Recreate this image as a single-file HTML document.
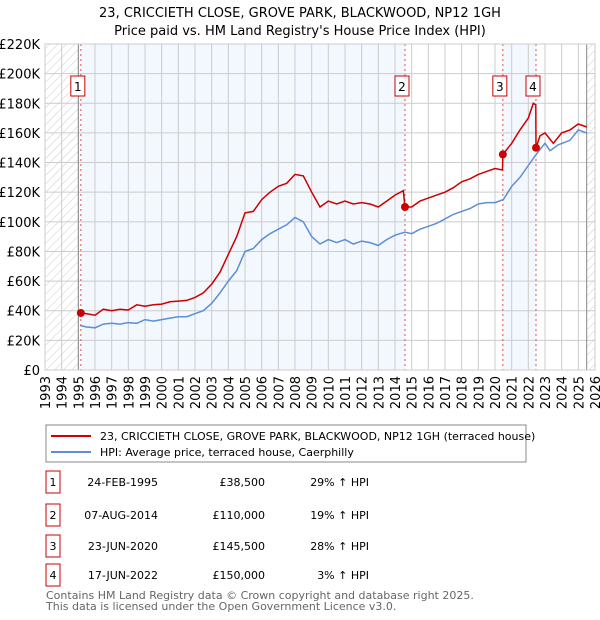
<!DOCTYPE html>
<html><head><meta charset="utf-8"><style>
body{margin:0;background:#fff;font-family:"Liberation Sans","DejaVu Sans",sans-serif;}
#wrap{position:relative;width:600px;height:620px;overflow:hidden;}
svg text{font-family:"DejaVu Sans","Liberation Sans",sans-serif;}
</style></head><body><div id="wrap">
<svg id="c" width="600" height="620" xmlns="http://www.w3.org/2000/svg"></svg>
</div>
<script>
const hpiYears=[1995.1,1995.5,1996,1996.5,1997,1997.5,1998,1998.5,1999,1999.5,2000,2000.5,2001,2001.5,2002,2002.5,2003,2003.5,2004,2004.5,2005,2005.5,2006,2006.5,2007,2007.5,2008,2008.5,2009,2009.5,2010,2010.5,2011,2011.5,2012,2012.5,2013,2013.5,2014,2014.6,2015,2015.5,2016,2016.5,2017,2017.5,2018,2018.5,2019,2019.5,2020,2020.5,2021,2021.5,2022,2022.5,2023,2023.3,2023.8,2024.5,2025,2025.5];
const hpiValues=[30,29,28.5,31,31.5,31,32,31.5,34,33,34,35,36,36,38,40,45,52,60,67,80,82,88,92,95,98,103,100,90,85,88,86,88,85,87,86,84,88,91,93,92,95,97,99,102,105,107,109,112,113,113,115,124,130,138,146,153,148,152,155,162,160];
const priceYears=[1995.15,1995.5,1996,1996.5,1997,1997.5,1998,1998.5,1999,1999.5,2000,2000.5,2001,2001.5,2002,2002.5,2003,2003.5,2004,2004.5,2005,2005.5,2006,2006.5,2007,2007.5,2008,2008.5,2009,2009.5,2010,2010.5,2011,2011.5,2012,2012.5,2013,2013.5,2014,2014.5,2014.6,2015,2015.5,2016,2016.5,2017,2017.5,2018,2018.5,2019,2019.5,2020,2020.45,2020.47,2021,2021.5,2022,2022.3,2022.45,2022.46,2022.7,2023,2023.5,2024,2024.5,2025,2025.5];
const priceValues=[38.5,38,37,41,40,41,40.5,44,43,44,44.5,46,46.5,47,49,52,58,66,78,90,106,107,115,120,124,126,132,131,120,110,114,112,114,112,113,112,110,114,118,121,110,110,114,116,118,120,123,127,129,132,134,136,135,145.5,153,162,170,180,179,150,158,160,153,160,162,166,164];
const saleYears=[1995.15,2014.6,2020.47,2022.46];
const saleValues=[38.5,110,145.5,150];
const saleLabels=["1","2","3","4"];
const yTicks=[0,20,40,60,80,100,120,140,160,180,200,220];
const yTickLabels=["£0","£20K","£40K","£60K","£80K","£100K","£120K","£140K","£160K","£180K","£200K","£220K"];
const xTicks=[];for(let y=1993;y<=2026;y++)xTicks.push(y);

const NS="http://www.w3.org/2000/svg",svg=document.getElementById('c');
const X0=45,X1=595,Y0=370,Y1=44;
const x=v=>X0+(v-1993)/(2026-1993)*(X1-X0);
const y=v=>Y0-v/220*(Y0-Y1);
function el(t,a,p){const e=document.createElementNS(NS,t);for(const k in a)e.setAttribute(k,a[k]);(p||svg).appendChild(e);return e;}
function txt(s,a,p){const e=el('text',a,p);e.textContent=s;return e;}

const defs=el('defs',{});
const pat=el('pattern',{id:'h',width:6,height:6,patternUnits:'userSpaceOnUse',patternTransform:'rotate(45)'},defs);
el('line',{x1:0,y1:0,x2:0,y2:6,stroke:'#ccc','stroke-width':1},pat);

let t=txt('23, CRICCIETH CLOSE, GROVE PARK, BLACKWOOD, NP12 1GH',{x:300,y:17,'text-anchor':'middle','font-size':13});

t=txt("Price paid vs. HM Land Registry's House Price Index (HPI)",{x:300,y:35,'text-anchor':'middle','font-size':13});


let r=el('rect',{x:x(saleYears[0]),y:Y1,width:x(saleYears[1])-x(saleYears[0]),height:Y0-Y1,fill:'#eef3fd',opacity:0.7});

r=el('rect',{x:x(saleYears[2]),y:Y1,width:x(saleYears[3])-x(saleYears[2]),height:Y0-Y1,fill:'#eef3fd',opacity:0.7});

r=el('rect',{x:X0,y:Y1,width:x(1995)-X0,height:Y0-Y1,fill:'url(#h)'});

r=el('rect',{x:x(2025.5),y:Y1,width:X1-x(2025.5),height:Y0-Y1,fill:'url(#h)'});


for(let i=0;i<yTicks.length;i++){
 el('line',{x1:X0,x2:X1,y1:y(yTicks[i]),y2:y(yTicks[i]),stroke:'#ccc','stroke-width':1});
 const l=txt(yTickLabels[i],{x:40,y:y(yTicks[i])+5,'text-anchor':'end','font-size':13});
 
 
}
for(const v of xTicks){
 el('line',{x1:x(v),x2:x(v),y1:Y1,y2:Y0,stroke:'#ccc','stroke-width':1});
 const l=txt(String(v),{transform:`translate(${x(v)+5},376) rotate(-90)`,'text-anchor':'end','font-size':13});
 
 
}
el('line',{x1:x(1995),x2:x(1995),y1:Y1,y2:Y0,stroke:'#888'});
el('line',{x1:x(2025.5),x2:x(2025.5),y1:Y1,y2:Y0,stroke:'#888'});

for(let i=0;i<saleYears.length;i++){
 const l=el('line',{x1:x(saleYears[i]),x2:x(saleYears[i]),y1:Y1,y2:Y0,stroke:'#e05050','stroke-dasharray':'2,3','stroke-width':1});
 
 
}

const pts=(xs,vs)=>xs.map((v,i)=>x(v).toFixed(1)+','+y(vs[i]).toFixed(1)).join(' ');
let p=el('polyline',{points:pts(hpiYears,hpiValues),fill:'none',stroke:'#5b8fd6','stroke-width':1.5});

p=el('polyline',{points:pts(priceYears,priceValues),fill:'none',stroke:'#cc0000','stroke-width':1.5});


for(let i=0;i<saleYears.length;i++){
 const c=el('circle',{cx:x(saleYears[i]),cy:y(saleValues[i]),r:4,fill:'#cc0000'});
 
 
 const g=el('g',{});
 
 
 el('rect',{x:x(saleYears[i])-10,y:76,width:14,height:20,fill:'#fff',stroke:'#cc0000'},g);
 txt(saleLabels[i],{x:x(saleYears[i])-3,y:91,'text-anchor':'middle','font-size':12},g);
}
el('rect',{x:X0,y:Y1,width:X1-X0,height:Y0-Y1,fill:'none',stroke:'#ccc'});

const lg=el('g',{});

el('rect',{x:46,y:425,width:480,height:37,fill:'#fff',stroke:'#888'},lg);
el('line',{x1:51,x2:91,y1:436,y2:436,stroke:'#cc0000','stroke-width':2},lg);
txt('23, CRICCIETH CLOSE, GROVE PARK, BLACKWOOD, NP12 1GH (terraced house)',{x:100,y:440,'font-size':11},lg);
el('line',{x1:51,x2:91,y1:452,y2:452,stroke:'#5b8fd6','stroke-width':2},lg);
txt('HPI: Average price, terraced house, Caerphilly',{x:100,y:456,'font-size':11},lg);

const tDates=["24-FEB-1995","07-AUG-2014","23-JUN-2020","17-JUN-2022"];
const tPrices=["£38,500","£110,000","£145,500","£150,000"];
const tHpi=["29% ↑ HPI","19% ↑ HPI","28% ↑ HPI","3% ↑ HPI"];
const rowY=[482,515,546,575];
for(let i=0;i<4;i++){
 const g=el('g',{});
 
 
 el('rect',{x:46,y:rowY[i]-11,width:14,height:22,fill:'#fff',stroke:'#cc0000'},g);
 txt(saleLabels[i],{x:53,y:rowY[i]+4,'text-anchor':'middle','font-size':11},g);
 txt(tDates[i],{x:158,y:rowY[i]+4,'text-anchor':'end','font-size':11},g);
 txt(tPrices[i],{x:265,y:rowY[i]+4,'text-anchor':'end','font-size':11},g);
 txt(tHpi[i],{x:369,y:rowY[i]+4,'text-anchor':'end','font-size':11},g);
}
t=txt('Contains HM Land Registry data © Crown copyright and database right 2025.',{x:46,y:599,'font-size':11,fill:'#666'});

t=txt('This data is licensed under the Open Government Licence v3.0.',{x:46,y:610,'font-size':11,fill:'#666'});

</script></body></html>
